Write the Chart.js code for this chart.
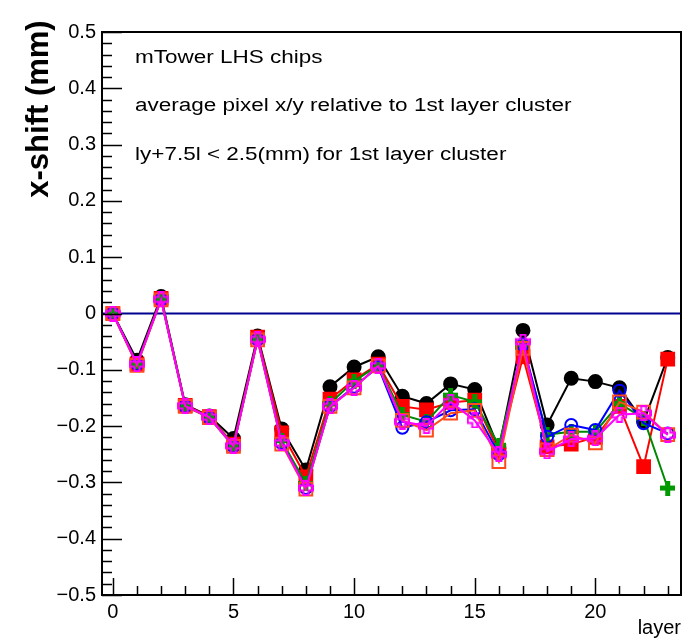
<!DOCTYPE html>
<html><head><meta charset="utf-8">
<script src="https://cdn.jsdelivr.net/npm/chart.js@4/dist/chart.umd.min.js"></script>
<style>html,body{margin:0;padding:0;background:#fff;overflow:hidden}#wrap{width:684px;height:640px}canvas{display:block}</style>
</head><body><div id="wrap"><canvas id="c" width="684" height="640"></canvas></div>
<script>
const layers = [0,1,2,3,4,5,6,7,8,9,10,11,12,13,14,15,16,17,18,19,20,21,22,23];
const blackVals   = [0,-0.083,0.030,-0.162,-0.182,-0.222,-0.040,-0.205,-0.278,-0.130,-0.095,-0.077,-0.147,-0.160,-0.125,-0.135,-0.240,-0.030,-0.198,-0.115,-0.121,-0.132,-0.192,-0.078];
const redVals     = [0,-0.090,0.027,-0.163,-0.183,-0.232,-0.042,-0.212,-0.290,-0.152,-0.118,-0.090,-0.165,-0.171,-0.158,-0.154,-0.245,-0.077,-0.237,-0.232,-0.220,-0.165,-0.272,-0.081];
const greenVals   = [0,-0.090,0.026,-0.164,-0.184,-0.234,-0.045,-0.226,-0.302,-0.160,-0.120,-0.092,-0.180,-0.192,-0.145,-0.157,-0.234,-0.060,-0.215,-0.210,-0.210,-0.160,-0.186,-0.310];
const blueVals    = [0,-0.090,0.025,-0.165,-0.185,-0.236,-0.046,-0.230,-0.310,-0.165,-0.130,-0.095,-0.203,-0.193,-0.172,-0.170,-0.250,-0.055,-0.219,-0.198,-0.207,-0.137,-0.195,-0.213];
const orangeVals  = [0,-0.092,0.024,-0.165,-0.185,-0.236,-0.047,-0.232,-0.312,-0.165,-0.132,-0.093,-0.190,-0.207,-0.177,-0.172,-0.263,-0.062,-0.242,-0.216,-0.230,-0.157,-0.175,-0.215];
const magentaVals = [0,-0.090,0.025,-0.164,-0.184,-0.235,-0.046,-0.230,-0.310,-0.165,-0.132,-0.093,-0.192,-0.200,-0.157,-0.190,-0.250,-0.050,-0.245,-0.223,-0.222,-0.180,-0.177,-0.216];

const xTickValues = [0,5,10,15,20];
const xMinorValues = layers;
const yTickValues = [-0.5,-0.4,-0.3,-0.2,-0.1,0,0.1,0.2,0.3,0.4,0.5];
const yTickLabels = ['\u22120.5','\u22120.4','\u22120.3','\u22120.2','\u22120.1','0','0.1','0.2','0.3','0.4','0.5'];
const notes = ['mTower LHS chips','average pixel x/y relative to 1st layer cluster','ly+7.5l < 2.5(mm) for 1st layer cluster'];
const yTitle = 'x-shift (mm)';
const xTitle = 'layer';

const FONT = '"Liberation Sans", Arial, Helvetica, sans-serif';

function fullCross(color){
  const c=document.createElement('canvas'); c.width=15; c.height=15;
  const g=c.getContext('2d'); g.fillStyle=color;
  g.fillRect(5,0,5,15); g.fillRect(0,5,15,5); return c;
}
function openCross(color){
  const c=document.createElement('canvas'); c.width=16; c.height=16;
  const g=c.getContext('2d'); g.strokeStyle=color; g.lineWidth=2;
  const a=1,b=5.5,d=10.5,e=15;
  g.beginPath();
  g.moveTo(b,a);g.lineTo(d,a);g.lineTo(d,b);g.lineTo(e,b);g.lineTo(e,d);g.lineTo(d,d);
  g.lineTo(d,e);g.lineTo(b,e);g.lineTo(b,d);g.lineTo(a,d);g.lineTo(a,b);g.lineTo(b,b);g.closePath();
  g.stroke(); return c;
}
function pts(vals){ return layers.map((l,i)=>({x:l,y:vals[i]})); }

const series = [
  {name:'black', vals:blackVals, color:'#000000', style:'circle', fill:true, r:6.5, order:6},
  {name:'red', vals:redVals, color:'#ff0000', style:'rect', fill:true, r:9, order:5},
  {name:'green', vals:greenVals, color:'#008800', style:fullCross('#009900'), fill:true, r:8, order:4},
  {name:'blue', vals:blueVals, color:'#0000ff', style:'circle', fill:false, r:6, order:3},
  {name:'orange', vals:orangeVals, color:'#ff4a1a', style:'rect', fill:false, r:9, order:2},
  {name:'magenta', vals:magentaVals, color:'#ff00ff', style:openCross('#ff00ff'), fill:false, r:8, order:1}
];

const datasets = series.map(s=>({
  label:s.name, data:pts(s.vals), order:s.order,
  borderColor:s.color, borderWidth:2,
  pointStyle:s.style, pointRadius:s.r,
  pointBackgroundColor: s.fill? s.color : 'rgba(0,0,0,0)',
  pointBorderColor:s.color, pointBorderWidth:2,
  tension:0, fill:false
}));

const SX = 1.25; // horizontal stretch of the reference's text
const decor = {
  id:'decor',
  beforeDatasetsDraw(chart){
    const {ctx, chartArea:a, scales:{y}} = chart;
    const y0 = y.getPixelForValue(0);
    ctx.save(); ctx.strokeStyle='#00008f'; ctx.lineWidth=2;
    ctx.beginPath(); ctx.moveTo(a.left,y0); ctx.lineTo(a.right,y0); ctx.stroke(); ctx.restore();
  },
  afterDraw(chart){
    const {ctx, chartArea:a, scales:{x,y}} = chart;
    ctx.save();
    ctx.strokeStyle='#000'; ctx.lineWidth=2;
    ctx.strokeRect(a.left,a.top,a.right-a.left,a.bottom-a.top);
    ctx.lineWidth=1.5;
    ctx.beginPath();
    for(let v=-50; v<=50; v+=2){
      const py=Math.round(y.getPixelForValue(v/100))+0.5;
      const len = (v%10===0)?20:10;
      ctx.moveTo(a.left,py); ctx.lineTo(a.left+len,py);
    }
    xMinorValues.forEach(v=>{
      const px=Math.round(x.getPixelForValue(v))+0.5;
      const len = (v%5===0)?17:9;
      ctx.moveTo(px,a.bottom); ctx.lineTo(px,a.bottom-len);
    });
    ctx.stroke();
    ctx.fillStyle='#000'; ctx.font='18px '+FONT; ctx.textBaseline='middle'; ctx.textAlign='left';
    const ny=[58,106,155];
    notes.forEach((t,i)=>{ ctx.save(); ctx.translate(135,ny[i]); ctx.scale(SX,1); ctx.fillText(t,0,0); ctx.restore(); });
    ctx.save();
    ctx.translate(39,109); ctx.rotate(-Math.PI/2);
    ctx.font='bold 31px '+FONT; ctx.textAlign='center'; ctx.textBaseline='middle';
    ctx.fillText(yTitle,0,0);
    ctx.restore();
    ctx.restore();
  }
};

new Chart(document.getElementById('c'), {
  type:'line',
  data:{datasets},
  plugins:[decor],
  options:{
    responsive:false, animation:false, events:[],
    layout:{autoPadding:false, padding:{top:32,right:3,left:0,bottom:0}},
    plugins:{legend:{display:false}, tooltip:{enabled:false}},
    scales:{
      x:{type:'linear', min:-0.45, max:23.55,
        afterBuildTicks(s){ s.ticks = xTickValues.map(v=>({value:v})); },
        afterFit(s){ s.height=45; s.paddingLeft=0; s.paddingRight=0; },
        grid:{display:false, drawTicks:false},
        border:{display:false},
        ticks:{padding:5, color:'#000', font:{family:FONT, size:20}, maxRotation:0, autoSkip:false,
          callback:(v)=>String(v)},
        title:{display:true, text:xTitle, align:'end', color:'#000', font:{family:FONT, size:20}, padding:{top:0,bottom:0}}
      },
      y:{type:'linear', min:-0.5, max:0.5,
        afterBuildTicks(s){ s.ticks = yTickValues.map(v=>({value:v})); },
        afterFit(s){ s.width=102; s.paddingTop=0; s.paddingBottom=0; },
        grid:{display:false, drawTicks:false},
        border:{display:false},
        ticks:{padding:6, color:'#000', font:{family:FONT, size:20}, autoSkip:false,
          callback:(v)=>{ const i=yTickValues.findIndex(t=>Math.abs(t-v)<1e-9); return i>=0?yTickLabels[i]:''; }}
      }
    }
  }
});
</script>
</body></html>
